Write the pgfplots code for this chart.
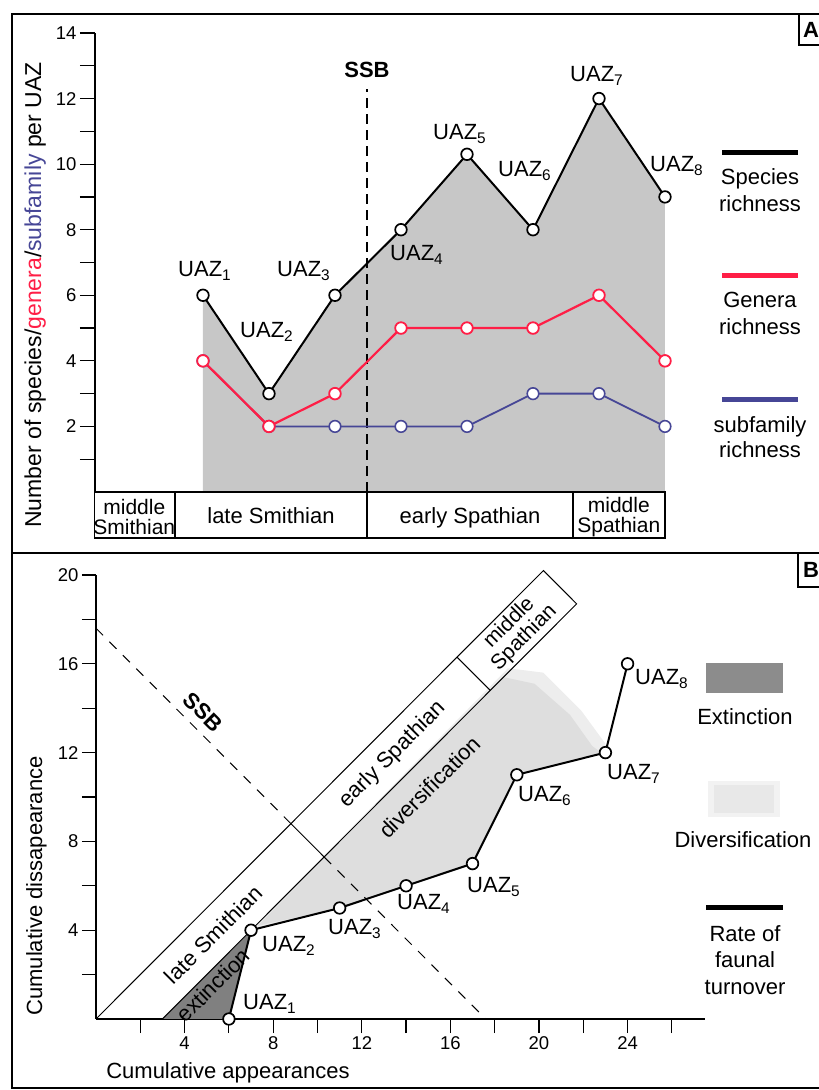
\documentclass[border=0pt]{standalone}
\usepackage{pgfplots}
\pgfplotsset{compat=1.18}
\usepackage{fontspec}
\setmainfont{Liberation Sans}
\definecolor{genred}{RGB}{255,30,70}
\definecolor{subblue}{RGB}{70,70,150}
\newcommand\fs{\fontsize{22}{25}\selectfont}
\newcommand\uaz[1]{UAZ\textsubscript{#1}}
\begin{document}
\begin{tikzpicture}
\path[use as bounding box] (0pt,0pt) rectangle (819pt,1090pt);
% frames
\draw[line width=2pt] (830pt,1076pt) -- (12pt,1076pt) -- (12pt,2pt) -- (830pt,2pt);
\draw[line width=2pt] (12pt,537pt) -- (830pt,537pt);
\draw[line width=1.2pt] (799pt,1076pt) -- (799pt,1045pt) -- (830pt,1045pt);
\node[font=\fs\bfseries, anchor=west, inner sep=0pt] at (803pt,1060pt) {A};
\draw[line width=1.2pt] (798pt,537pt) -- (798pt,503pt) -- (830pt,503pt);
\node[font=\fs\bfseries, anchor=west, inner sep=0pt] at (803pt,520pt) {B};

% ================= Panel A =================
\begin{axis}[at={(95pt,598pt)}, anchor=south west, scale only axis,
  width=589.8pt, height=459pt,
  xmin=-0.636, xmax=8.3, ymin=0, ymax=14,
  axis x line=none, axis y line*=left,
  ytick={2,4,...,14}, minor ytick={1,3,...,13},
  tick align=outside, major tick length=15pt, minor tick length=15pt,
  every tick/.style={black, line width=1.2pt},
  y axis line style={line width=1.3pt},
  yticklabel style={font=\fontsize{18.5}{20}\selectfont},
  /pgf/number format/assume math mode=true,
  clip=false]
\addplot[draw=none, fill=black!22] coordinates {(1,6) (2,3) (3,6) (4,8) (5,10.3) (6,8) (7,12) (8,9)} \closedcycle;
\draw[dash pattern=on 10pt off 6pt, line width=1.1pt] (axis cs:3.485,0) -- (axis cs:3.485,12.3);
\node[font=\fs\bfseries] at (axis cs:3.485,12.87) {SSB};
\addplot[subblue, line width=1.8pt, mark=*, mark size=5.8pt, mark options={fill=white, draw=subblue, line width=1.6pt}]
  coordinates {(1,4) (2,2) (3,2) (4,2) (5,2) (6,3) (7,3) (8,2)};
\addplot[genred, line width=2.2pt, mark=*, mark size=5.8pt, mark options={fill=white, draw=genred, line width=1.8pt}]
  coordinates {(1,4) (2,2) (3,3) (4,5) (5,5) (6,5) (7,6) (8,4)};
\addplot[black, line width=2pt, mark=*, mark size=5.8pt, mark options={fill=white, draw=black, line width=1.7pt}]
  coordinates {(1,6) (2,3) (3,6) (4,8) (5,10.3) (6,8) (7,12) (8,9)};
% stage boxes
\draw[line width=1.1pt] (axis cs:-0.65,0) rectangle (axis cs:8.0,-1.403);
\draw[line width=1.1pt] (axis cs:0.576,0) -- (axis cs:0.576,-1.403);
\draw[line width=1.1pt] (axis cs:3.485,0) -- (axis cs:3.485,-1.403);
\draw[line width=1.1pt] (axis cs:6.606,0) -- (axis cs:6.606,-1.403);
\node[font=\fontsize{21}{21}\selectfont, anchor=base, inner sep=0pt] at (axis cs:-0.04,-0.70) {middle};
\node[font=\fontsize{21}{21}\selectfont, anchor=base, inner sep=0pt] at (axis cs:-0.04,-1.31) {Smithian};
\node[font=\fs, anchor=base, inner sep=0pt] at (axis cs:2.03,-0.946) {late Smithian};
\node[font=\fs, anchor=base, inner sep=0pt] at (axis cs:5.045,-0.946) {early Spathian};
\node[font=\fontsize{21}{21}\selectfont, anchor=base, inner sep=0pt] at (axis cs:7.3,-0.64) {middle};
\node[font=\fontsize{21}{21}\selectfont, anchor=base, inner sep=0pt] at (axis cs:7.3,-1.25) {Spathian};
\end{axis}
% y label A
\node[font=\fontsize{23}{25}\selectfont, rotate=90, anchor=base, inner sep=0pt] at (41pt,795pt)
  {Number of species/\textcolor{genred}{genera}/\textcolor{subblue}{subfamily} per UAZ};
% UAZ labels A
\begin{scope}[every node/.style={font=\fs, anchor=base west, inner sep=0pt}]
\node at (178pt,813pt) {\uaz{1}};
\node at (240pt,752pt) {\uaz{2}};
\node at (277pt,813pt) {\uaz{3}};
\node at (390pt,829pt) {\uaz{4}};
\node at (433pt,950pt) {\uaz{5}};
\node at (498pt,913pt) {\uaz{6}};
\node at (570pt,1008pt) {\uaz{7}};
\node at (650pt,918pt) {\uaz{8}};
\end{scope}
% legend A
\draw[line width=5pt] (722pt,937pt) -- (798pt,937pt);
\draw[line width=5pt, genred] (722pt,814pt) -- (798pt,814pt);
\draw[line width=5pt, subblue] (722pt,690pt) -- (798pt,690pt);
\begin{scope}[every node/.style={font=\fs, anchor=base, inner sep=0pt}]
\node at (760pt,905pt) {Species};
\node at (760pt,878pt) {richness};
\node at (760pt,782pt) {Genera};
\node at (760pt,755pt) {richness};
\node at (760pt,657pt) {subfamily};
\node at (760pt,632pt) {richness};
\end{scope}

% ================= Panel B =================
\begin{axis}[at={(96pt,71pt)}, anchor=south west, scale only axis,
  width=609.1pt, height=444pt,
  xmin=0, xmax=27.5, ymin=0, ymax=20,
  axis x line*=bottom, axis y line*=left,
  xtick={4,8,...,24}, minor xtick={2,6,...,26},
  ytick={4,8,...,20}, minor ytick={2,6,...,18},
  tick align=outside, major tick length=14pt, minor tick length=14pt,
  every tick/.style={black, line width=1.2pt},
  axis line style={line width=1.3pt},
  ticklabel style={font=\fontsize{18.5}{20}\selectfont},
  /pgf/number format/assume math mode=true,
  clip=false]
% diversification region (soft edge)
\addplot[draw=none, fill=black!7] coordinates {(7,4) (18.6,15.8) (20.2,15.6) (21.9,13.9) (23.0,12.4) (23,12) (19,11) (17,7) (14,6) (11,5) (7,4)};
\addplot[draw=none, fill=black!13] coordinates {(7.3,4.2) (18.4,15.4) (19.8,15.1) (21.4,13.7) (22.4,12.3) (22.8,12) (19,11) (17,7) (14,6) (11,5) (7.3,4.2)};
% extinction triangle
\addplot[draw=none, fill=black!50] coordinates {(3,0) (7,4) (6,0)};
% stage band
\draw[line width=1pt] (axis cs:0,0) -- (axis cs:20.2,20.2) -- (axis cs:21.7,18.7) -- (axis cs:3,0);
\draw[line width=1pt] (axis cs:8.8,8.8) -- (axis cs:10.3,7.3);
\draw[line width=1pt] (axis cs:16.3,16.3) -- (axis cs:17.8,14.8);
% SSB
\draw[dash pattern=on 10pt off 9pt, line width=1pt] (axis cs:0,17.6) -- (axis cs:8.8,8.8);
\draw[dash pattern=on 10pt off 9pt, line width=1pt] (axis cs:10.3,7.3) -- (axis cs:17.6,0);
\node[font=\fs\bfseries, rotate=-45] at (axis cs:4.83,13.83) {SSB};
\node[font=\fs, rotate=45] at (axis cs:5.3,3.8) {late Smithian};
\node[font=\fs, rotate=45] at (axis cs:13.4,11.9) {early Spathian};
\node[font=\fontsize{21}{21}\selectfont, rotate=45, align=center] at (axis cs:19.0,17.5) {middle\\Spathian};
\node[font=\fs, rotate=45] at (axis cs:15.06,10.45) {diversification};
\node[font=\fs, rotate=45] at (axis cs:5.28,1.53) {extinction};
% turnover
\addplot[black, line width=2pt, mark=*, mark size=5.8pt, mark options={fill=white, draw=black, line width=1.7pt}]
  coordinates {(6,0) (7,4) (11,5) (14,6) (17,7) (19,11) (23,12) (24,16)};
\end{axis}
% UAZ labels B
\begin{scope}[every node/.style={font=\fs, anchor=base west, inner sep=0pt}]
\node at (243pt,80pt) {\uaz{1}};
\node at (262pt,138pt) {\uaz{2}};
\node at (328pt,155pt) {\uaz{3}};
\node at (397pt,180pt) {\uaz{4}};
\node at (467pt,197pt) {\uaz{5}};
\node at (518pt,288pt) {\uaz{6}};
\node at (607pt,310pt) {\uaz{7}};
\node at (635pt,405pt) {\uaz{8}};
\end{scope}
% legend B
\fill[black!45] (706pt,427pt) rectangle (783pt,397pt);
\fill[black!5] (708pt,309pt) rectangle (780pt,273pt);
\fill[black!9] (714pt,305pt) rectangle (774pt,277pt);
\draw[line width=5pt] (706pt,182pt) -- (783pt,182pt);
\begin{scope}[every node/.style={font=\fs, anchor=base, inner sep=0pt}]
\node at (745pt,365pt) {Extinction};
\node at (743pt,242pt) {Diversification};
\node at (745pt,148pt) {Rate of};
\node at (745pt,122pt) {faunal};
\node at (745pt,95pt) {turnover};
\node at (228pt,12pt) {Cumulative appearances};
\end{scope}
\node[font=\fs, rotate=90, anchor=base, inner sep=0pt] at (42pt,204pt) {Cumulative dissapearance};
\end{tikzpicture}
\end{document}
